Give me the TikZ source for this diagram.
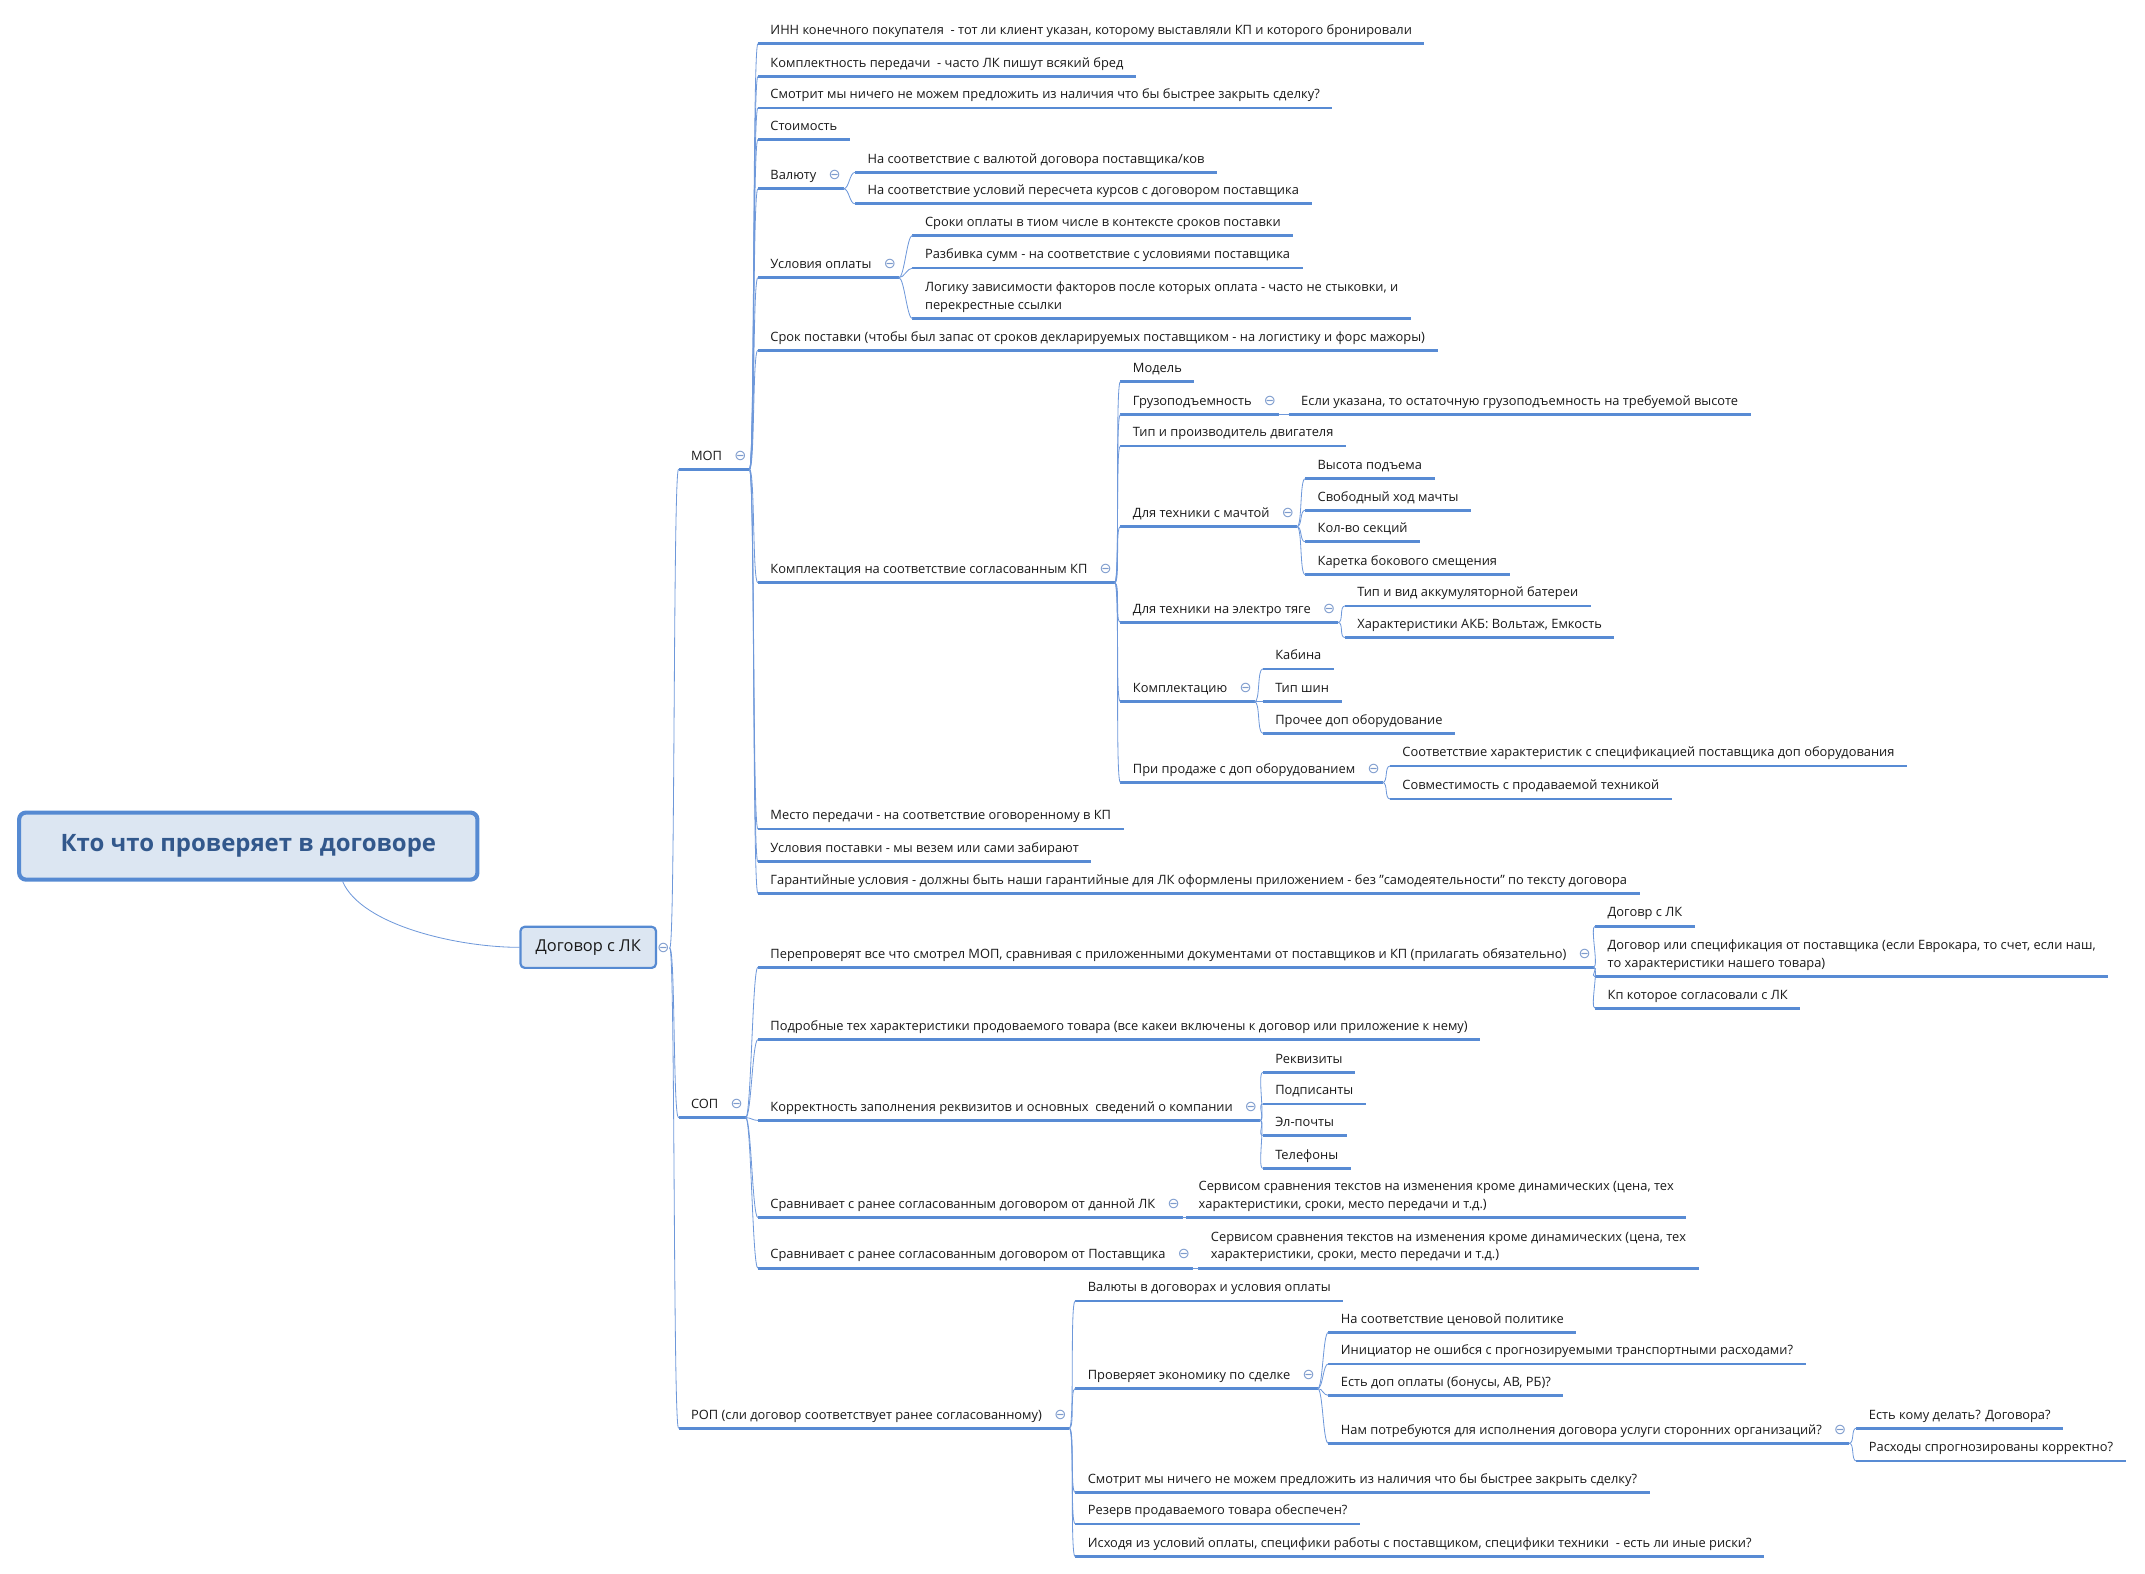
\documentclass[tikz,border=0pt]{standalone}
\usepackage{fontspec}
\setmainfont{Open Sans}
\newfontfamily\symfont{DejaVu Sans}
\usepackage{xcolor}
\definecolor{ulblue}{RGB}{88,139,212}
\definecolor{linkblue}{RGB}{110,152,218}
\definecolor{foldgray}{RGB}{125,155,205}
\definecolor{rootfill}{RGB}{220,230,242}
\definecolor{rootdraw}{RGB}{86,138,210}
\definecolor{titleblue}{RGB}{50,88,140}
\definecolor{textgray}{RGB}{25,25,25}

% collapse mark after a parent topic
\newcommand{\foldmark}{\hspace{9pt}{\symfont\fontsize{10.5}{10}\selectfont\color{foldgray}⊖}\kern-7pt}

\begin{document}
\begin{tikzpicture}[x=1pt, y=-1pt, line join=round,
  topic/.style={anchor=south west, align=left, inner xsep=9pt, inner ysep=4pt,
    text depth=2.5pt, font=\fontsize{9.4}{13}\selectfont, text=textgray},
  uline/.style={ulblue, line width=2pt, line cap=butt},
  link/.style={linkblue, line width=0.6pt, line cap=round},
  roottopic/.style={draw=rootdraw, fill=rootfill, line width=3pt, rounded corners=5pt,
    minimum width=335pt, minimum height=49pt, font=\fontsize{17.5}{20}\selectfont\bfseries, text=titleblue},
  maintopic/.style={draw=rootdraw, fill=rootfill, line width=1.6pt, rounded corners=3pt,
    minimum width=99pt, minimum height=30pt, font=\fontsize{12}{14}\selectfont, text=textgray}]

\useasboundingbox (0,0) rectangle (1568,1150);

%==================================================
% Central topics
%==================================================
\node[roottopic] (root) at (181.5,618.5) {Кто что проверяет в договоре\hspace{8pt}};
\node[maintopic] (dog) at (430,692.5) {Договор с ЛК};
\node[inner sep=0, font=\symfont\fontsize{10.5}{10}\selectfont, text=foldgray] (dogfold) at (485,693) {⊖};

\draw[link] ([xshift=69pt]root.south) .. controls +(14,32) and +(-45,0) .. (dog.west);

%==================================================
% Level 1
%==================================================
\node[topic] (mop) at (496,343) {МОП\foldmark};
\node[topic] (sop) at (496,817) {СОП\foldmark};
\node[topic] (rop) at (496,1044) {РОП (сли договор соответствует ранее согласованному)\foldmark};

%==================================================
% МОП
%==================================================
\node[topic] (m1) at (554,32) {ИНН конечного покупателя \ - тот ли клиент указан, которому выставляли КП и которого бронировали};
\node[topic] (m2) at (554,56) {Комплектность передачи \ - часто ЛК пишут всякий бред};
\node[topic] (m3) at (554,79) {Смотрит мы ничего не можем предложить из наличия что бы быстрее закрыть сделку?};
\node[topic] (m4) at (554,102) {Стоимость};
\node[topic] (m5) at (554,138) {Валюту\foldmark};
\node[topic] (m6) at (554,203) {Условия оплаты\foldmark};
\node[topic] (m7) at (554,256) {Срок поставки (чтобы был запас от сроков декларируемых поставщиком - на логистику и форс мажоры)};
\node[topic] (m8) at (554,426) {Комплектация на соответствие согласованным КП\foldmark};
\node[topic] (m9) at (554,606) {Место передачи - на соответствие оговоренному в КП};
\node[topic] (m10) at (554,630) {Условия поставки - мы везем или сами забирают};
\node[topic] (m11) at (554,653) {Гарантийные условия - должны быть наши гарантийные для ЛК оформлены приложением - без "самодеятельности" по тексту договора};

% Валюту
\node[topic] (m5a) at (625,126) {На соответствие с валютой договора поставщика/ков};
\node[topic] (m5b) at (625,149) {На соответствие условий пересчета курсов с договором поставщика};

% Условия оплаты
\node[topic] (m6a) at (667,172) {Сроки оплаты в тиом числе в контексте сроков поставки};
\node[topic] (m6b) at (667,196) {Разбивка сумм - на соответствие с условиями поставщика};
\node[topic] (m6c) at (667,233) {Логику зависимости факторов после которых оплата - часто не стыковки, и\\перекрестные ссылки};

% Комплектация
\node[topic] (k1) at (819,279) {Модель};
\node[topic] (k2) at (819,303) {Грузоподъемность\foldmark};
\node[topic] (k3) at (819,326) {Тип и производитель двигателя};
\node[topic] (k4) at (819,385) {Для техники с мачтой\foldmark};
\node[topic] (k5) at (819,455) {Для техники на электро тяге\foldmark};
\node[topic] (k6) at (819,513) {Комплектацию\foldmark};
\node[topic] (k7) at (819,572) {При продаже с доп оборудованием\foldmark};

\node[topic] (k2a) at (942,303) {Если указана, то остаточную грузоподъемность на требуемой высоте};

\node[topic] (k4a) at (954,350) {Высота подъема};
\node[topic] (k4b) at (954,373) {Свободный ход мачты};
\node[topic] (k4c) at (954,396) {Кол-во секций};
\node[topic] (k4d) at (954,420) {Каретка бокового смещения};

\node[topic] (k5a) at (983,443) {Тип и вид аккумуляторной батереи};
\node[topic] (k5b) at (983,466) {Характеристики АКБ: Вольтаж, Емкость};

\node[topic] (k6a) at (923,489) {Кабина};
\node[topic] (k6b) at (923,513) {Тип шин};
\node[topic] (k6c) at (923,536) {Прочее доп оборудование};

\node[topic] (k7a) at (1016,560) {Соответствие характеристик с спецификацией поставщика доп оборудования};
\node[topic] (k7b) at (1016,584) {Совместимость с продаваемой техникой};

%==================================================
% СОП
%==================================================
\node[topic] (s1) at (554,707) {Перепроверят все что смотрел МОП, сравнивая с приложенными документами от поставщиков и КП (прилагать обязательно)\foldmark};
\node[topic] (s2) at (554,760) {Подробные тех характеристики продоваемого товара (все какеи включены к договор или приложение к нему)};
\node[topic] (s3) at (554,819) {Корректность заполнения реквизитов и основных \ сведений о компании\foldmark};
\node[topic] (s4) at (554,890) {Сравнивает с ранее согласованным договором от данной ЛК\foldmark};
\node[topic] (s5) at (554,927) {Сравнивает с ранее согласованным договором от Поставщика\foldmark};

\node[topic] (s1a) at (1166,677) {Договр с ЛК};
\node[topic] (s1b) at (1166,714) {Договор или спецификация от поставщика (если Еврокара, то счет, если наш,\\то характеристики нашего товара)};
\node[topic] (s1c) at (1166,737) {Кп которое согласовали с ЛК};

\node[topic] (s3a) at (923,784) {Реквизиты};
\node[topic] (s3b) at (923,807) {Подписанты};
\node[topic] (s3c) at (923,830) {Эл-почты};
\node[topic] (s3d) at (923,854) {Телефоны};

\node[topic] (s4a) at (867,890) {Сервисом сравнения текстов на изменения кроме динамических (цена, тех\\характеристики, сроки, место передачи и т.д.)};
\node[topic] (s5a) at (876,927) {Сервисом сравнения текстов на изменения кроме динамических (цена, тех\\характеристики, сроки, место передачи и т.д.)};

%==================================================
% РОП
%==================================================
\node[topic] (r1) at (786,951) {Валюты в договорах и условия оплаты};
\node[topic] (r2) at (786,1015) {Проверяет экономику по сделке\foldmark};
\node[topic] (r3) at (786,1091) {Смотрит мы ничего не можем предложить из наличия что бы быстрее закрыть сделку?};
\node[topic] (r4) at (786,1114) {Резерв продаваемого товара обеспечен?};
\node[topic] (r5) at (786,1138) {Исходя из условий оплаты, специфики работы с поставщиком, специфики техники \ - есть ли иные риски?};

\node[topic] (r2a) at (971,974) {На соответствие ценовой политике};
\node[topic] (r2b) at (971,997) {Инициатор не ошибся с прогнозируемыми транспортными расходами?};
\node[topic] (r2c) at (971,1020) {Есть доп оплаты (бонусы, АВ, РБ)?};
\node[topic] (r2d) at (971,1055) {Нам потребуются для исполнения договора услуги сторонних организаций?\foldmark};

\node[topic] (r2d1) at (1357,1044) {Есть кому делать? Договора?};
\node[topic] (r2d2) at (1357,1068) {Расходы спрогнозированы корректно?};

%==================================================
% Underlines
%==================================================
\foreach \n in {mop,sop,rop,m1,m2,m3,m4,m5,m6,m7,m8,m9,m10,m11,m5a,m5b,m6a,m6b,m6c,
  k1,k2,k3,k4,k5,k6,k7,k2a,k4a,k4b,k4c,k4d,k5a,k5b,k6a,k6b,k6c,k7a,k7b,
  s1,s2,s3,s4,s5,s1a,s1b,s1c,s3a,s3b,s3c,s3d,s4a,s5a,
  r1,r2,r3,r4,r5,r2a,r2b,r2c,r2d,r2d1,r2d2}{
  \draw[uline] (\n.south west) -- (\n.south east);
}

%==================================================
% Branches
%==================================================
\foreach \c in {mop,sop,rop}
  \draw[link] (dogfold.east) .. controls +(4,0) and +(-4,0) .. (\c.south west);

\foreach \c in {m1,m2,m3,m4,m5,m6,m7,m8,m9,m10,m11}
  \draw[link] (mop.south east) .. controls +(4,0) and +(-4,0) .. (\c.south west);
\foreach \c in {m5a,m5b}
  \draw[link] (m5.south east) .. controls +(4,0) and +(-4,0) .. (\c.south west);
\foreach \c in {m6a,m6b,m6c}
  \draw[link] (m6.south east) .. controls +(4,0) and +(-4,0) .. (\c.south west);
\foreach \c in {k1,k2,k3,k4,k5,k6,k7}
  \draw[link] (m8.south east) .. controls +(4,0) and +(-4,0) .. (\c.south west);
\draw[link] (k2.south east) -- (k2a.south west);
\foreach \c in {k4a,k4b,k4c,k4d}
  \draw[link] (k4.south east) .. controls +(4,0) and +(-4,0) .. (\c.south west);
\foreach \c in {k5a,k5b}
  \draw[link] (k5.south east) .. controls +(4,0) and +(-4,0) .. (\c.south west);
\foreach \c in {k6a,k6b,k6c}
  \draw[link] (k6.south east) .. controls +(4,0) and +(-4,0) .. (\c.south west);
\foreach \c in {k7a,k7b}
  \draw[link] (k7.south east) .. controls +(4,0) and +(-4,0) .. (\c.south west);

\foreach \c in {s1,s2,s3,s4,s5}
  \draw[link] (sop.south east) .. controls +(4,0) and +(-4,0) .. (\c.south west);
\foreach \c in {s1a,s1b,s1c}
  \draw[link] (s1.south east) .. controls +(4,0) and +(-4,0) .. (\c.south west);
\foreach \c in {s3a,s3b,s3c,s3d}
  \draw[link] (s3.south east) .. controls +(4,0) and +(-4,0) .. (\c.south west);
\draw[link] (s4.south east) -- (s4a.south west);
\draw[link] (s5.south east) -- (s5a.south west);

\foreach \c in {r1,r2,r3,r4,r5}
  \draw[link] (rop.south east) .. controls +(4,0) and +(-4,0) .. (\c.south west);
\foreach \c in {r2a,r2b,r2c,r2d}
  \draw[link] (r2.south east) .. controls +(4,0) and +(-4,0) .. (\c.south west);
\foreach \c in {r2d1,r2d2}
  \draw[link] (r2d.south east) .. controls +(4,0) and +(-4,0) .. (\c.south west);

\end{tikzpicture}
\end{document}
